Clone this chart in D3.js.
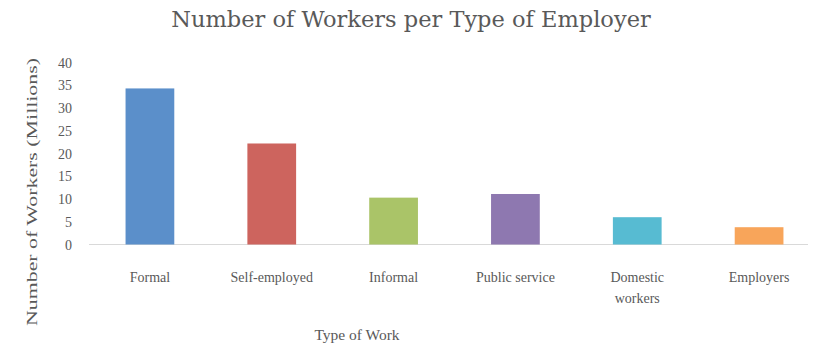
<!DOCTYPE html>
<html lang="en">
  <head>
    <meta charset="utf-8">
    <title>Number of Workers per Type of Employer</title>
    <script src="https://cdn.jsdelivr.net/npm/d3@7"></script>
    <style>
      body { margin: 0; background: #fff; }
      text { font-family: 'Liberation Serif', serif; fill: #595959; }
    </style>
  </head>
  <body>
    <div id='chart'></div>

    <script type='text/javascript'>
      // data
      let categories = [['Formal'], ['Self-employed'], ['Informal'], ['Public service'], ['Domestic', 'workers'], ['Employers']];
      let workers = [34.3, 22.2, 10.3, 11.1, 6.0, 3.8];
      let barColors = ['#5b8fca', '#cd645e', '#aac468', '#8e78b0', '#57bbd2', '#f8a55a'];
      let yTicks = [0, 5, 10, 15, 20, 25, 30, 35, 40];

      let width = 821, height = 348;
      let svg = d3.select('#chart').append('svg')
        .attr('width', width)
        .attr('height', height)

      let names = categories.map(c => c.join(' '));

      let x = d3.scalePoint()
        .domain(names)
        .range([89, 820])
        .padding(0.5)
      let barW = x.step() * 0.4;

      let y = d3.scaleLinear()
        .domain([0, 40])
        .range([244.5, 62.5])

      // title
      svg.append('text')
        .attr('x', 411)
        .attr('y', 27)
        .attr('text-anchor', 'middle')
        .style('font-family', "'DejaVu Serif', serif")
        .style('font-size', '22.5px')
        .text('Number of Workers per Type of Employer')

      // y tick labels
      svg.selectAll('.ytick')
        .data(yTicks)
        .enter()
        .append('text')
        .attr('class', 'ytick')
        .attr('x', 72)
        .attr('y', d => y(d) + 5)
        .attr('text-anchor', 'end')
        .style('font-size', '14px')
        .text(d => d)

      // baseline
      svg.append('line')
        .attr('x1', x.range()[0])
        .attr('x2', x.range()[1] - 12)
        .attr('y1', y(0))
        .attr('y2', y(0))
        .attr('stroke', '#d9d9d9')
        .attr('stroke-width', 1)

      // bars
      svg.selectAll('.bar')
        .data(workers)
        .enter()
        .append('rect')
        .attr('class', 'bar')
        .attr('x', (d, i) => x(names[i]) - barW / 2)
        .attr('width', barW)
        .attr('y', d => y(d))
        .attr('height', d => y(0) - y(d))
        .attr('fill', (d, i) => barColors[i])

      // category labels
      let cat = svg.selectAll('.cat')
        .data(categories)
        .enter()
        .append('text')
        .attr('class', 'cat')
        .attr('text-anchor', 'middle')
        .style('font-size', '14px')

      cat.selectAll('tspan')
        .data((d, i) => d.map(line => ({ line: line, i: i })))
        .enter()
        .append('tspan')
        .attr('x', d => x(names[d.i]))
        .attr('y', (d, j) => 282 + j * 21)
        .text(d => d.line)

      // axis titles
      svg.append('text')
        .attr('x', 357)
        .attr('y', 340)
        .attr('text-anchor', 'middle')
        .style('font-size', '15.5px')
        .text('Type of Work')

      svg.append('text')
        .attr('transform', 'translate(37,192) rotate(-90)')
        .attr('text-anchor', 'middle')
        .attr('textLength', 268)
        .attr('lengthAdjust', 'spacingAndGlyphs')
        .style('font-size', '14.5px')
        .text('Number of Workers (Millions)')
    </script>
  </body>
</html>
